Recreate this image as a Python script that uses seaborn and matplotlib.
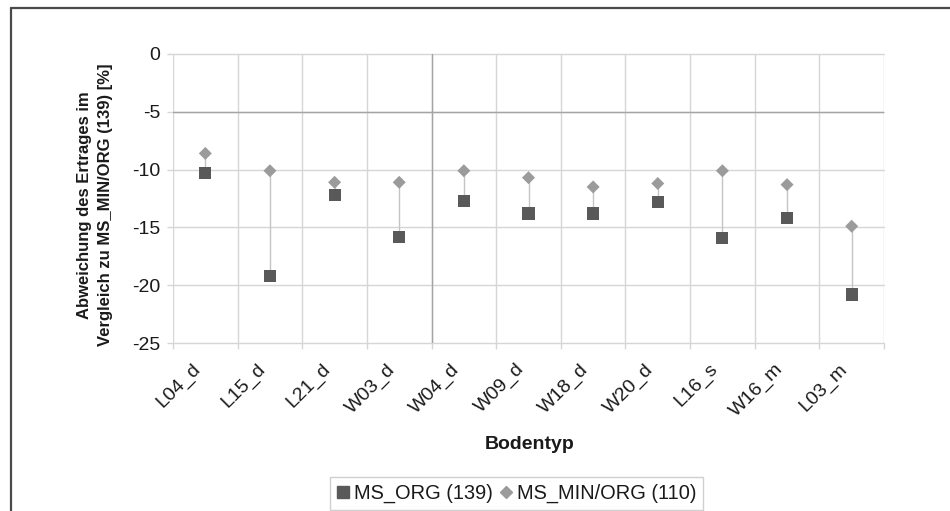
import numpy as np
import pandas as pd
import matplotlib
matplotlib.use("Agg")
import matplotlib.pyplot as plt
from matplotlib.lines import Line2D
from matplotlib.transforms import ScaledTranslation
import seaborn as sns

# ---------------- data ----------------
categories = ["L04_d", "L15_d", "L21_d", "W03_d", "W04_d", "W09_d",
              "W18_d", "W20_d", "L16_s", "W16_m", "L03_m"]
ms_org = [-10.3, -19.2, -12.2, -15.8, -12.7, -13.8, -13.8, -12.8, -15.9, -14.2, -20.8]
ms_min_org = [-8.6, -10.1, -11.1, -11.1, -10.1, -10.7, -11.5, -11.2, -10.1, -11.3, -14.9]
series_names = ["MS_ORG (139)", "MS_MIN/ORG (110)"]
y_ticks = [-25, -20, -15, -10, -5, 0]
x_title = "Bodentyp"
y_title = "Abweichung des Ertrages im\nVergleich zu MS_MIN/ORG (139) [%]"

df = pd.DataFrame({
    "Bodentyp": categories * 2,
    "Wert": ms_org + ms_min_org,
    "Serie": [series_names[0]] * len(categories) + [series_names[1]] * len(categories),
})

# ---------------- style ----------------
sns.set_theme(style="white")
plt.rcParams["font.family"] = ["Liberation Sans", "DejaVu Sans"]
plt.rcParams["axes.unicode_minus"] = False

sq_color = "#595959"
dia_color = "#9b9b9b"
grid_color = "#d6d6d6"
dark_grid = "#a4a4a4"
conn_color = "#c4c4c4"
text_color = "#1a1a1a"

W, H = 950, 511
fig = plt.figure(figsize=(W / 100, H / 100), dpi=100)
left, right, top, bottom = 173, 884, 54, 343
ax = fig.add_axes([left / W, 1 - bottom / H, (right - left) / W, (bottom - top) / H])

# connectors (drawn underneath markers)
pos = np.arange(len(categories))
ax.vlines(pos, ms_org, ms_min_org, color=conn_color, lw=1.0, zorder=2)

sns.scatterplot(data=df, x="Bodentyp", y="Wert", hue="Serie", style="Serie",
                palette={series_names[0]: sq_color, series_names[1]: dia_color},
                markers={series_names[0]: "s", series_names[1]: "D"},
                size="Serie", sizes={series_names[0]: 76, series_names[1]: 44},
                linewidth=0, legend=False, ax=ax, zorder=3)

ax.set_xlim(-0.5, len(categories) - 0.5)
ax.set_ylim(min(y_ticks), max(y_ticks))

for s in ax.spines.values():
    s.set_visible(False)

# y axis
ax.set_yticks(y_ticks)
ax.set_yticklabels([str(v) for v in y_ticks])
ax.tick_params(axis="y", which="major", length=4.3, width=1, color=grid_color,
               pad=5, labelsize=14, labelcolor=text_color, left=True)
ax.grid(axis="y", which="major", color=grid_color, lw=1)

# x axis: labels at category centres, gridlines/ticks at boundaries
ax.set_xticks(pos)
ax.set_xticklabels(categories, rotation=45, ha="right", va="center",
                   rotation_mode="anchor")
ax.set_xticks(np.arange(len(categories) + 1) - 0.5, minor=True)
ax.tick_params(axis="x", which="major", length=0, pad=17, labelsize=14,
               labelcolor=text_color)
ax.tick_params(axis="x", which="minor", length=4.3, width=1, color=grid_color, bottom=True)
ax.grid(axis="x", which="minor", color=grid_color, lw=1)
ax.grid(axis="x", which="major", visible=False)
for gl in ax.yaxis.get_gridlines():
    gl.set_clip_on(False)
for gl in ax.xaxis.get_minorticklines():
    gl.set_clip_on(False)

ax.axhline(-5, color=dark_grid, lw=1, zorder=1)
ax.axvline(3.5, color=dark_grid, lw=1, zorder=1)
ax.set_axisbelow(True)

# axis titles
ax.set_xlabel(x_title, fontsize=14, fontweight="bold", color=text_color, va="center")
ax.xaxis.set_label_coords((530 - left) / (right - left), -(444 - bottom) / (bottom - top))
ax.set_ylabel(y_title, fontsize=12, fontweight="bold", color=text_color,
              va="center", ha="center", linespacing=1.55)
ax.yaxis.set_label_coords(-(left - 95) / (right - left), (bottom - 205) / (bottom - top))

# legend
handles = [
    Line2D([], [], marker="s", linestyle="", color=sq_color, markersize=8),
    Line2D([], [], marker="D", linestyle="", color=dia_color, markersize=6.3),
]
leg = fig.legend(handles, series_names, loc="upper center",
                 bbox_to_anchor=(516.5 / W, 1 - 477 / H), ncol=2, fontsize=14.4,
                 frameon=True, fancybox=False, edgecolor="#d0d0d0", framealpha=1,
                 handlelength=0.6, handletextpad=0.25, columnspacing=0.35,
                 borderpad=0.35, borderaxespad=0)
leg.get_frame().set_linewidth(1)
for t in leg.get_texts():
    t.set_color(text_color)

# outer frame (left and top edges)
fig.add_artist(Line2D([11 / W, 11 / W], [0, 1 - 8 / H], transform=fig.transFigure,
                      color="#4a4a4a", lw=1.6))
fig.add_artist(Line2D([11 / W, 1], [1 - 8 / H, 1 - 8 / H], transform=fig.transFigure,
                      color="#4a4a4a", lw=1.6))

# shift rotated category labels slightly left, like the reference
shift = ScaledTranslation(-7 / 100, 0, fig.dpi_scale_trans)
for lab in ax.get_xticklabels():
    lab.set_transform(lab.get_transform() + shift)

fig.savefig("out.png", dpi=100, facecolor="white")
